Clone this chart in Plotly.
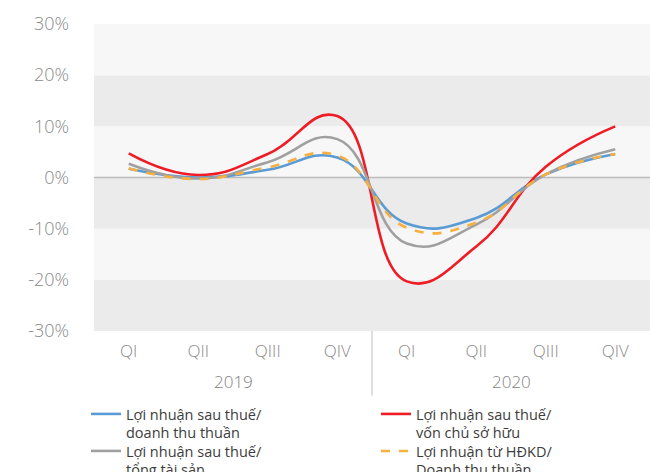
import plotly.graph_objects as go

# Quarterly profitability ratios, 2019-2020 (%)
quarters = ["QI", "QII", "QIII", "QIV", "QI", "QII", "QIII", "QIV"]
years = ["2019", "2020"]
y_ticks = [-30, -20, -10, 0, 10, 20, 30]

ros = [1.7, 0.0, 1.5, 3.9, -9.0, -7.9, 0.6, 4.6]          # LNST / doanh thu thuần
roe = [4.7, 0.5, 4.6, 12.0, -20.3, -13.5, 2.1, 10.0]      # LNST / vốn chủ sở hữu
roa = [2.7, -0.2, 3.0, 7.5, -12.9, -9.2, 0.6, 5.5]        # LNST / tổng tài sản
opm = [1.8, -0.3, 2.0, 4.3, -9.8, -8.8, 0.6, 4.6]         # LN từ HĐKD / doanh thu thuần

names = [
    "Lợi nhuận sau thuế/<br>doanh thu thuần",
    "Lợi nhuận sau thuế/<br>vốn chủ sở hữu",
    "Lợi nhuận sau thuế/<br>tổng tài sản",
    "Lợi nhuận từ HĐKD/<br>Doanh thu thuần",
]
colors = ["#5b9bd5", "#ee1c25", "#a0a0a0", "#f7b03f"]
dashes = ["solid", "solid", "solid", "dash"]
series = [ros, roe, roa, opm]
legend_ids = ["legend", "legend2", "legend3", "legend4"]

FONT = "Open Sans"
x = list(range(len(quarters)))

fig = go.Figure()
for vals, nm, col, dsh, lg in zip(series, names, colors, dashes, legend_ids):
    fig.add_trace(go.Scatter(
        x=x, y=vals, name=nm, mode="lines", legend=lg,
        line=dict(color=col, width=2.6, dash=dsh, shape="spline", smoothing=1.3),
        hoverinfo="skip",
    ))

# alternating horizontal bands
shapes = []
for i, (lo, hi) in enumerate(zip(y_ticks[:-1], y_ticks[1:])):
    shapes.append(dict(type="rect", xref="paper", yref="y", x0=0, x1=1, y0=lo, y1=hi,
                       fillcolor="#ebebeb" if i % 2 == 0 else "#f7f7f7",
                       line=dict(width=0), layer="below"))
# zero line
shapes.append(dict(type="line", xref="paper", yref="y", x0=0, x1=1, y0=0, y1=0,
                   line=dict(color="#bdbdbd", width=1.5), layer="below"))
# year separator below the axis
shapes.append(dict(type="line", xref="x", yref="paper", x0=3.5, x1=3.5, y0=0, y1=-0.21,
                   line=dict(color="#c8c8c8", width=1.2)))

annotations = [
    dict(x=1.5 + 4 * i, y=-0.163, xref="x", yref="paper", text=yr, showarrow=False,
         yanchor="middle", font=dict(family=FONT, size=17, color="#7f7f7f", weight=300))
    for i, yr in enumerate(years)
]

# legend blocks: two columns, two rows
legend_font = dict(family=FONT, size=14.5, color="#3c3c3c")
legend_pos = [(86, 398), (376, 398), (86, 435), (376, 435)]
legends = {}
for lg, (px, py) in zip(legend_ids, legend_pos):
    legends[lg] = dict(orientation="h", x=px / 650, y=1 - py / 472,
                       xref="container", yref="container",
                       xanchor="left", yanchor="top", valign="top", itemwidth=30,
                       bgcolor="rgba(0,0,0,0)", font=legend_font)

fig.update_layout(
    width=650, height=472,
    margin=dict(l=94, r=0, t=24, b=141),
    paper_bgcolor="white", plot_bgcolor="white",
    shapes=shapes, annotations=annotations,
    showlegend=True,
    xaxis=dict(range=[-0.5, 7.5], tickvals=x, ticktext=quarters, showgrid=False,
               zeroline=False, showline=False, ticks="",
               tickfont=dict(family=FONT, size=17, color="#8a8a8a", weight=300)),
    yaxis=dict(range=[-30, 30], tickvals=y_ticks, ticktext=[f"{v}%" for v in y_ticks],
               showgrid=False, zeroline=False, showline=False, ticks="",
               tickfont=dict(family=FONT, size=18, color="#8a8a8a", weight=300)),
    **legends,
)
fig.update_xaxes(ticklabelstandoff=8)
fig.update_yaxes(ticklabelstandoff=24)

fig.write_html("out.html")
